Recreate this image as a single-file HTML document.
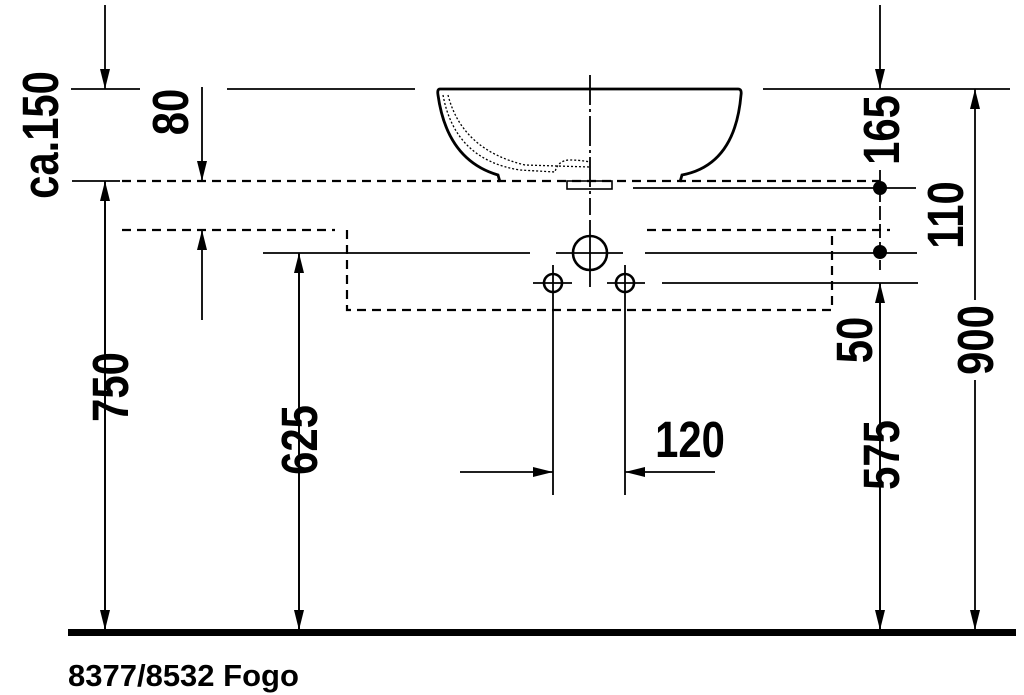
<!DOCTYPE html>
<html><head><style>
html,body{margin:0;padding:0;background:#fff;}
svg{display:block;}
text{font-family:"Liberation Sans",Arial,sans-serif;font-weight:bold;fill:#000;}
</style></head><body>
<svg width="1024" height="695" viewBox="0 0 1024 695" xmlns="http://www.w3.org/2000/svg">
<defs>
<marker id="a" viewBox="0 0 20 10" refX="20" refY="5" markerWidth="20" markerHeight="10" markerUnits="userSpaceOnUse" orient="auto"><path d="M0,0 L20,5 L0,10 z" fill="#000"/></marker>
</defs>
<g stroke="#000" stroke-width="1.8" fill="none">
<line x1="71" y1="89" x2="140" y2="89"/>
<line x1="227" y1="89" x2="415" y2="89"/>
<line x1="763" y1="89" x2="1010" y2="89"/>
<line x1="72" y1="181" x2="120" y2="181"/>
<line x1="122" y1="181" x2="880" y2="181" stroke-dasharray="9,6" stroke-width="2.2"/>
<line x1="633" y1="188" x2="916" y2="188"/>
<line x1="122" y1="230" x2="335" y2="230" stroke-dasharray="9,6" stroke-width="2.2"/>
<line x1="647" y1="230" x2="890" y2="230" stroke-dasharray="9,6" stroke-width="2.2"/>
<line x1="263" y1="253" x2="530" y2="253"/>
<line x1="645" y1="253" x2="917" y2="253"/>
<line x1="662" y1="283" x2="918" y2="283"/>
<path d="M347,230 V310 H832 V230" stroke-dasharray="9,6" stroke-width="2.2"/>
<path d="M440,89 H738 Q742,89 741,95 Q735,165 682,175 L680,182 M500,182 L498,175 Q447,160 438,95 Q437,89 440,89" stroke-width="2.8"/>
<path d="M443,95 Q455,160 520,170 L555,172 Q558,160 570,160 Q580,160 590,162" stroke-dasharray="2,2" stroke-width="1.3"/>
<path d="M448,95 Q462,150 525,165 L590,167" stroke-dasharray="2,2" stroke-width="1.3"/>
<rect x="567" y="181" width="45" height="8" stroke-width="1.6"/>
<line x1="590" y1="75" x2="590" y2="215" stroke-dasharray="30,4,3,4"/>
<circle cx="590" cy="253" r="17" stroke-width="2.6"/>
<line x1="556" y1="253" x2="623" y2="253"/>
<line x1="590" y1="220" x2="590" y2="287"/>
<circle cx="553" cy="283" r="9" stroke-width="2.6"/>
<circle cx="625" cy="283" r="9" stroke-width="2.6"/>
<line x1="533" y1="283" x2="572" y2="283"/>
<line x1="607" y1="283" x2="645" y2="283"/>
<line x1="553" y1="265" x2="553" y2="495"/>
<line x1="625" y1="265" x2="625" y2="495"/>
<line x1="105" y1="5" x2="105" y2="89" marker-end="url(#a)"/>
<line x1="105" y1="630" x2="105" y2="181" marker-end="url(#a)"/>
<line x1="105" y1="182" x2="105" y2="630" marker-end="url(#a)"/>
<line x1="202" y1="87" x2="202" y2="181" marker-end="url(#a)"/>
<line x1="202" y1="320" x2="202" y2="230" marker-end="url(#a)"/>
<line x1="299" y1="630" x2="299" y2="253" marker-end="url(#a)"/>
<line x1="299" y1="254" x2="299" y2="630" marker-end="url(#a)"/>
<line x1="880" y1="5" x2="880" y2="89" marker-end="url(#a)"/>
<line x1="880" y1="170" x2="880" y2="270" stroke-dasharray="14,4"/>
<line x1="880" y1="630" x2="880" y2="283" marker-end="url(#a)"/>
<line x1="880" y1="284" x2="880" y2="630" marker-end="url(#a)"/>
<line x1="975" y1="300" x2="975" y2="89" marker-end="url(#a)"/>
<line x1="975" y1="380" x2="975" y2="630" marker-end="url(#a)"/>
<line x1="460" y1="472" x2="553" y2="472" marker-end="url(#a)"/>
<line x1="715" y1="472" x2="625" y2="472" marker-end="url(#a)"/>
</g>
<circle cx="880" cy="188" r="7" fill="#000"/>
<circle cx="880" cy="252" r="7" fill="#000"/>
<rect x="68" y="629" width="948" height="7" fill="#000"/>
<g font-size="44" text-anchor="middle">
<text transform="translate(58,135) rotate(-90) scale(0.95,1.15)">ca.150</text>
<text transform="translate(188,112) rotate(-90) scale(0.95,1.15)">80</text>
<text transform="translate(128,387) rotate(-90) scale(0.95,1.15)">750</text>
<text transform="translate(317,440) rotate(-90) scale(0.95,1.15)">625</text>
<text transform="translate(899,130) rotate(-90) scale(0.95,1.15)">165</text>
<text transform="translate(963,215) rotate(-90) scale(0.95,1.15)">110</text>
<text transform="translate(872,340) rotate(-90) scale(0.95,1.15)">50</text>
<text transform="translate(899,455) rotate(-90) scale(0.95,1.15)">575</text>
<text transform="translate(993,340) rotate(-90) scale(0.95,1.15)">900</text>
<text transform="translate(690,457) scale(0.95,1.15)">120</text>
</g>
<text x="68" y="686" font-size="31">8377/8532 Fogo</text>
</svg>
</body></html>
